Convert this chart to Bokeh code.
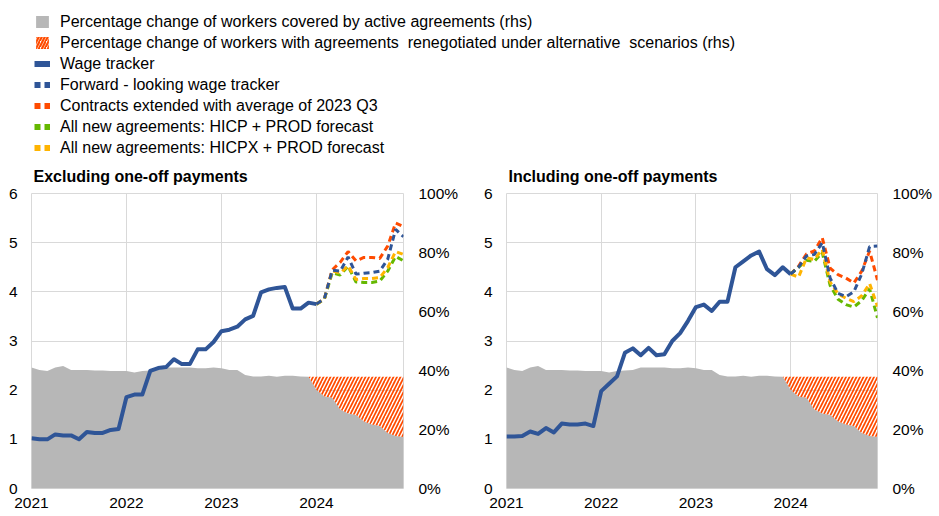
import numpy as np
from bokeh.plotting import figure
from bokeh.models import Range1d, LinearAxis, FixedTicker, Legend, LegendItem, ColumnDataSource
from bokeh.layouts import column, row
from bokeh.embed import file_html
from bokeh.resources import INLINE

FONT = "Liberation Sans"

# ---------------- data ----------------
months = list(range(48))                      # Jan 2021 ... Dec 2024 (monthly)
forecast_months = list(range(36, 48))         # Jan 2024 ... Dec 2024
year_ticks = [0, 12, 24, 36]
year_labels = ["2021", "2022", "2023", "2024"]
lhs_ticks = [0, 1, 2, 3, 4, 5, 6]
pct_ticks = [0, 20, 40, 60, 80, 100]
pct_labels = ["0%", "20%", "40%", "60%", "80%", "100%"]

# Percentage of workers covered by active agreements (rhs, %)
coverage = [41.0, 40.2, 39.8, 41.0, 41.5, 40.2, 40.2, 40.2, 40.0, 40.0, 39.8, 39.8,
            39.8, 39.3, 39.8, 40.0, 40.2, 41.0, 41.0, 41.0, 41.0, 40.8, 40.8, 41.0,
            40.8, 40.2, 40.2, 38.5, 38.0, 38.0, 38.2, 37.9, 38.2, 38.2, 38.0, 37.9,
            33.4, 31.2, 30.8, 26.8, 25.4, 24.9, 22.7, 21.7, 21.2, 18.8, 17.8, 17.5]
hatch_months = list(range(35, 48))
renegotiated_top = [37.9, 37.9, 37.9, 37.9, 37.9, 37.9, 37.9, 37.9, 37.9, 37.9, 37.9, 37.9, 37.9]

# Excluding one-off payments
wage_excl = [1.02, 1.0, 1.0, 1.1, 1.08, 1.08, 1.0, 1.15, 1.13, 1.13, 1.19, 1.21,
             1.86, 1.91, 1.91, 2.39, 2.45, 2.47, 2.63, 2.53, 2.53, 2.83, 2.83, 2.98,
             3.2, 3.23, 3.29, 3.44, 3.51, 3.99, 4.05, 4.08, 4.1, 3.66, 3.66, 3.78, 3.75]
forward_excl = [3.75, 3.86, 4.44, 4.42, 4.71, 4.36, 4.38, 4.39, 4.42, 4.66, 5.27, 5.12]
extended_excl = [3.75, 3.86, 4.45, 4.6, 4.82, 4.63, 4.7, 4.7, 4.68, 4.93, 5.4, 5.33]
hicp_excl = [3.75, 3.85, 4.39, 4.34, 4.52, 4.2, 4.19, 4.19, 4.22, 4.42, 4.72, 4.63]
hicpx_excl = [3.75, 3.85, 4.43, 4.38, 4.53, 4.25, 4.27, 4.27, 4.29, 4.49, 4.82, 4.76]

# Including one-off payments
wage_incl = [1.06, 1.06, 1.07, 1.16, 1.11, 1.23, 1.14, 1.32, 1.3, 1.3, 1.32, 1.27,
             1.98, 2.13, 2.28, 2.76, 2.85, 2.71, 2.86, 2.71, 2.73, 3.0, 3.16, 3.41,
             3.69, 3.74, 3.61, 3.8, 3.8, 4.5, 4.62, 4.74, 4.82, 4.46, 4.34, 4.5, 4.36]
forward_incl = [4.36, 4.5, 4.73, 4.76, 5.0, 4.28, 3.97, 3.9, 4.0, 4.36, 4.92, 4.93]
extended_incl = [4.36, 4.52, 4.77, 4.83, 5.1, 4.48, 4.35, 4.28, 4.18, 4.42, 4.83, 4.24]
hicp_incl = [4.36, 4.5, 4.64, 4.62, 4.8, 4.13, 3.85, 3.74, 3.69, 3.82, 4.06, 3.47]
hicpx_incl = [4.36, 4.3, 4.69, 4.66, 4.86, 4.2, 3.96, 3.87, 3.8, 3.92, 4.17, 3.7]

legend_labels = [
    "Percentage change of workers covered by active agreements (rhs)",
    "Percentage change of workers with agreements  renegotiated under alternative  scenarios (rhs)",
    "Wage tracker",
    "Forward - looking wage tracker",
    "Contracts extended with average of 2023 Q3",
    "All new agreements: HICP + PROD forecast",
    "All new agreements: HICPX + PROD forecast",
]

# ---------------- styles ----------------
GREY = "#B7B7B7"
HATCH = "#FF4B00"
BLUE = "#2F5597"
ORANGE = "#FF4B00"
GREEN = "#65B800"
YELLOW = "#FFB400"
GRID = "#D9D9D9"
DASH = "6 4"
LEGEND_H = 157
PANEL_H = 359


def panel(title, wage, forward, extended, hicp, hicpx, width, left_border, right_border):
    p = figure(width=width, height=PANEL_H, output_backend="svg", toolbar_location=None,
               x_range=Range1d(0, 47), y_range=Range1d(0, 6),
               min_border_left=left_border, min_border_right=right_border,
               min_border_top=36, min_border_bottom=28)
    p.extra_y_ranges = {"pct": Range1d(0, 100)}
    p.title.text = title
    p.title.text_font = FONT
    p.title.text_font_size = "16px"
    p.title.text_font_style = "bold"
    p.title.text_color = "#000000"
    p.title.align = "left"
    p.title.offset = 2
    p.title.standoff = 17
    p.outline_line_color = GRID
    p.background_fill_color = "white"
    p.border_fill_color = "white"

    # areas
    p.varea(x=months, y1=0, y2=coverage, fill_color=GREY, y_range_name="pct")
    p.varea(x=hatch_months, y1=coverage[35:], y2=renegotiated_top, fill_alpha=0,
            hatch_pattern="/", hatch_color=HATCH, hatch_weight=1.7, hatch_scale=7,
            y_range_name="pct")

    # lines
    p.line(forecast_months, extended, line_color=ORANGE, line_width=3, line_dash=DASH)
    p.line(forecast_months, hicp, line_color=GREEN, line_width=3, line_dash=DASH)
    p.line(forecast_months, hicpx, line_color=YELLOW, line_width=3, line_dash=DASH)
    p.line(forecast_months, forward, line_color=BLUE, line_width=3, line_dash=DASH)
    p.line(months[:37], wage, line_color=BLUE, line_width=4, line_join="round")

    # axes
    xa = p.xaxis[0]
    xa.ticker = FixedTicker(ticks=year_ticks)
    xa.major_label_overrides = {t: l for t, l in zip(year_ticks, year_labels)}
    ya = p.yaxis[0]
    ya.ticker = FixedTicker(ticks=lhs_ticks)
    ra = LinearAxis(y_range_name="pct", ticker=FixedTicker(ticks=pct_ticks),
                    major_label_overrides={t: l for t, l in zip(pct_ticks, pct_labels)})
    p.add_layout(ra, "right")
    for ax in (xa, ya, ra):
        ax.axis_line_color = None
        ax.major_tick_line_color = None
        ax.minor_tick_line_color = None
        ax.major_tick_out = 0
        ax.major_tick_in = 0
        ax.major_label_text_font = FONT
        ax.major_label_text_font_size = "15.5px"
        ax.major_label_text_color = "#000000"
    xa.major_label_standoff = 9
    ya.major_label_standoff = 14
    ra.major_label_standoff = 15

    p.xgrid.ticker = FixedTicker(ticks=year_ticks)
    p.ygrid.ticker = FixedTicker(ticks=lhs_ticks)
    p.xgrid.grid_line_color = GRID
    p.ygrid.grid_line_color = GRID
    return p


p1 = panel("Excluding  one-off payments", wage_excl, forward_excl, extended_excl,
           hicp_excl, hicpx_excl, 470, 31, 67)
p2 = panel("Including  one-off payments", wage_incl, forward_incl, extended_incl,
           hicp_incl, hicpx_incl, 469, 36, 62)

# ---------------- legend figure ----------------
lg = figure(width=939, height=LEGEND_H, output_backend="svg", toolbar_location=None,
            x_range=Range1d(0, 1), y_range=Range1d(0, 1),
            min_border=0, min_border_left=0, min_border_right=0,
            min_border_top=0, min_border_bottom=0)
lg.axis.visible = False
lg.grid.visible = False
lg.outline_line_color = None
# off-screen placeholder data so that the legend glyphs are drawn
dummy = ColumnDataSource(data=dict(x=[-10, -9], y=[-10, -10], y1=[-10, -10], y2=[-9, -9]))
r_grey = lg.varea(x="x", y1="y1", y2="y2", source=dummy, fill_color=GREY)
r_hatch = lg.varea(x="x", y1="y1", y2="y2", source=dummy, fill_alpha=0,
                   hatch_pattern="/", hatch_color=HATCH, hatch_weight=2.2, hatch_scale=6)
r_wage = lg.line(x="x", y="y", source=dummy, line_color=BLUE, line_width=6)
r_fwd = lg.line(x="x", y="y", source=dummy, line_color=BLUE, line_width=6, line_dash=DASH)
r_ext = lg.line(x="x", y="y", source=dummy, line_color=ORANGE, line_width=6, line_dash=DASH)
r_hicp = lg.line(x="x", y="y", source=dummy, line_color=GREEN, line_width=6, line_dash=DASH)
r_hicpx = lg.line(x="x", y="y", source=dummy, line_color=YELLOW, line_width=6, line_dash=DASH)
rends = [r_grey, r_hatch, r_wage, r_fwd, r_ext, r_hicp, r_hicpx]
legend = Legend(items=[LegendItem(label=l, renderers=[r]) for l, r in zip(legend_labels, rends)],
                location=(34, 0), orientation="vertical",
                glyph_width=16, glyph_height=15, label_height=19, spacing=2,
                label_standoff=10, padding=0, margin=0,
                border_line_color=None, background_fill_alpha=0,
                label_text_font=FONT, label_text_font_size="16px",
                label_text_color="#000000")
lg.add_layout(legend, "center")

layout = column(lg, row(p1, p2))
open("out.html", "w").write(file_html(layout, INLINE))
